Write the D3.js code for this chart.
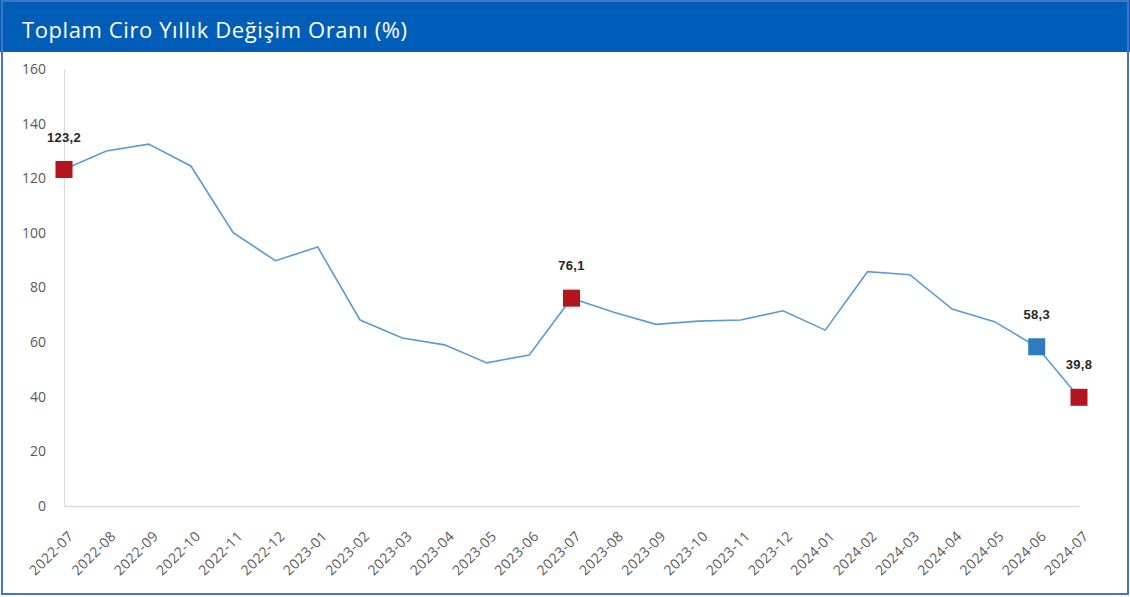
<!DOCTYPE html>
<html>
<head>
<meta charset="utf-8">
<script src="https://cdn.jsdelivr.net/npm/d3@7"></script>
<style>
  body { margin: 0; background: #fff; }
  svg { display: block; }
</style>
</head>
<body>
<div id="chart-area"></div>
<script>
let months = ["2022-07","2022-08","2022-09","2022-10","2022-11","2022-12",
              "2023-01","2023-02","2023-03","2023-04","2023-05","2023-06",
              "2023-07","2023-08","2023-09","2023-10","2023-11","2023-12",
              "2024-01","2024-02","2024-03","2024-04","2024-05","2024-06","2024-07"]
let values = [123.2, 130.0, 132.5, 124.5, 100.1, 89.8,
              94.8, 68.1, 61.5, 59.0, 52.4, 55.3,
              76.1, 70.9, 66.5, 67.7, 68.1, 71.5,
              64.4, 85.8, 84.7, 72.1, 67.5, 58.3, 39.8]
let highlighted = ["2022-07", "2023-07", "2024-06", "2024-07"]
let highlightColors = ["#b3141d", "#b3141d", "#2e7bbf", "#b3141d"]
let yTicks = [0, 20, 40, 60, 80, 100, 120, 140, 160]
let title = "Toplam Ciro Yıllık Değişim Oranı (%)"

let data = months.map((m, i) => ({ month: m, value: values[i] }))

let width = 1130
let height = 597

let svg = d3.select("#chart-area")
            .append('svg')
            .attr('width', width)
            .attr('height', height)

// header band + outer frame
svg.append('rect')
    .attr('x', 0).attr('y', 0)
    .attr('width', width).attr('height', 52)
    .attr('fill', '#005eb8')

svg.append('rect')
    .attr('x', 2).attr('y', 1)
    .attr('width', width - 4).attr('height', height - 4)
    .attr('fill', 'none')
    .attr('stroke', '#4472c4')
    .attr('stroke-width', 2)

svg.append('text')
    .attr('x', 22).attr('y', 38)
    .attr('fill', '#fff')
    .attr('font-family', 'Open Sans, sans-serif')
    .attr('font-size', 22)
    .attr('textLength', 385)
    .attr('lengthAdjust', 'spacing')
    .text(title)

let xScale = d3.scalePoint()
                .domain(months)
                .range([64, 1079])

let yScale = d3.scaleLinear()
                .domain([0, 160])
                .range([506, 69])

// y axis
let yAxis = svg.append('g')
    .attr('transform', 'translate(64,0)')
    .call(d3.axisLeft(yScale).tickValues(yTicks).tickSize(0).tickPadding(18))
yAxis.select('.domain').attr('stroke', '#d9d9d9')
yAxis.selectAll('text')
    .attr('fill', '#595959')
    .attr('font-family', 'Open Sans, sans-serif')
    .attr('font-size', 14)

// x axis
let xAxis = svg.append('g')
    .attr('transform', 'translate(0,506)')
    .call(d3.axisBottom(xScale).tickSize(0).tickPadding(0))
xAxis.select('.domain').attr('stroke', '#d9d9d9').attr('stroke-width', 1.5)
xAxis.selectAll('text')
    .attr('fill', '#595959')
    .attr('font-family', 'Open Sans, sans-serif')
    .attr('font-size', 14)
    .attr('letter-spacing', 0.4)
    .attr('text-anchor', 'end')
    .attr('dy', 0)
    .attr('transform', 'translate(10,31) rotate(-45)')

// line
let line = d3.line()
    .x(d => xScale(d.month))
    .y(d => yScale(d.value))

svg.append('path')
    .datum(data)
    .attr('d', line)
    .attr('fill', 'none')
    .attr('stroke', '#5b9bd5')
    .attr('stroke-width', 1.6)

// highlighted markers
let marked = data.filter(d => highlighted.includes(d.month))
let sq = 17

svg.selectAll('.marker')
    .data(marked)
    .enter()
    .append('rect')
    .attr('class', 'marker')
    .attr('x', d => xScale(d.month) - sq / 2)
    .attr('y', d => yScale(d.value) - sq / 2)
    .attr('width', sq)
    .attr('height', sq)
    .attr('fill', d => highlightColors[highlighted.indexOf(d.month)])

svg.selectAll('.label')
    .data(marked)
    .enter()
    .append('text')
    .attr('class', 'label')
    .attr('x', d => xScale(d.month))
    .attr('y', d => yScale(d.value) - 28)
    .attr('text-anchor', 'middle')
    .attr('fill', '#262626')
    .attr('font-family', 'Liberation Sans, Arial, sans-serif')
    .attr('font-weight', 'bold')
    .attr('font-size', 13)
    .attr('letter-spacing', 0.3)
    .text(d => d3.format('.1f')(d.value).replace('.', ','))
</script>
</body>
</html>
